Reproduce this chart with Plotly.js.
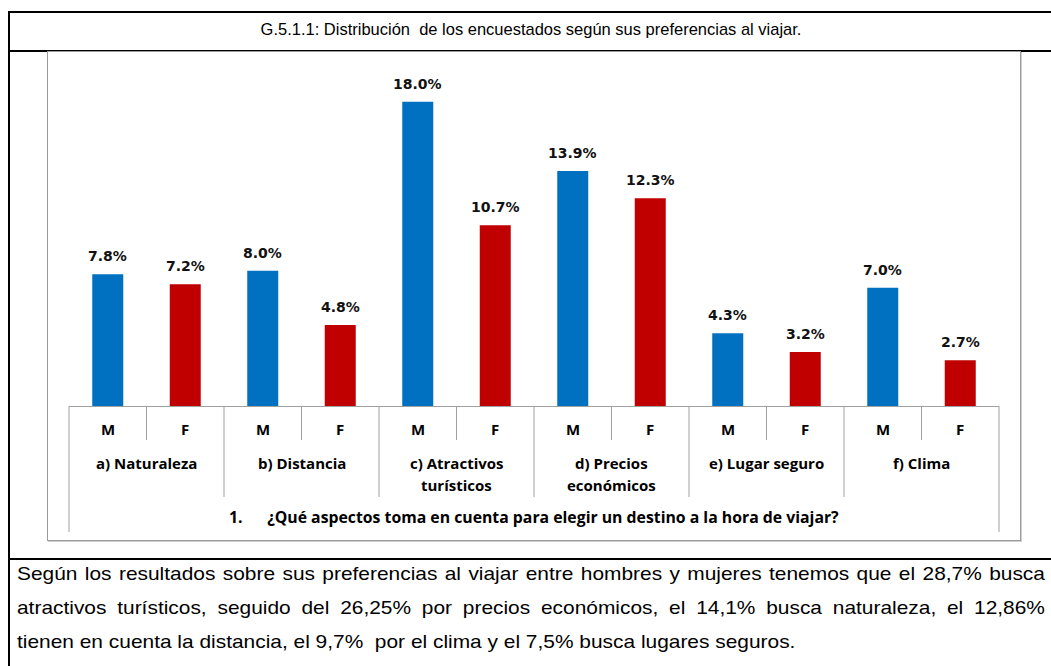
<!DOCTYPE html>
<html>
<head>
<meta charset="utf-8">
<script src="https://cdn.plot.ly/plotly-3.0.1.min.js"></script>
<style>
  html, body { margin:0; padding:0; background:#fff; }
  body { position:relative; width:1051px; height:666px; overflow:hidden; }
  .rule { position:absolute; background:#000; }
  #frame { position:absolute; left:47px; top:51px; width:972px; height:488px; border:1px solid #9a9a9a; box-shadow:1px 1px 0 #cfcfcf; background:#fff; }
  #title { position:absolute; left:531px; top:20px; white-space:nowrap; font-family:"Liberation Sans", Arial, sans-serif; font-size:17px; line-height:20px; color:#000; transform:translateX(-50%) scaleX(0.97); transform-origin:50% 0; }
  #para { position:absolute; left:17px; top:557px; width:934.5px; font-family:"Liberation Sans", Arial, sans-serif; font-size:19px; line-height:34px; color:#000; transform:scaleX(1.1); transform-origin:0 0; }
  #para .j { text-align:justify; text-align-last:justify; white-space:normal; }
  #para .l { text-align:left; white-space:pre; }
  #chart { position:absolute; left:0; top:0; width:1051px; height:666px; }
</style>
</head>
<body>
<div class="rule" style="left:8px;top:11px;width:1043px;height:2px;"></div>
<div class="rule" style="left:8px;top:11px;width:2px;height:655px;"></div>
<div class="rule" style="left:8px;top:50px;width:1043px;height:2px;"></div>
<div class="rule" style="left:8px;top:558px;width:1043px;height:2px;"></div>
<div id="frame"></div>
<div id="title"></div>
<div id="para"></div>
<div id="chart"></div>
<script>
// ---- data ----
const titleText = "G.5.1.1: Distribución\u00a0 de los encuestados según sus preferencias al viajar.";
const groups = [["a) Naturaleza"], ["b) Distancia"], ["c) Atractivos", "turísticos"], ["d) Precios", "económicos"], ["e) Lugar seguro"], ["f) Clima"]];
const sexes = ["M", "F"];
const male = [7.8, 8.0, 18.0, 13.9, 4.3, 7.0];
const female = [7.2, 4.8, 10.7, 12.3, 3.2, 2.7];
const question = "1.\u00a0\u00a0\u00a0\u00a0\u00a0 ¿Qué aspectos toma en cuenta para elegir un destino a la hora de viajar?";
const paragraphLines = [
  "Según los resultados sobre sus preferencias al viajar entre hombres y mujeres tenemos que el 28,7% busca",
  "atractivos turísticos, seguido del 26,25% por precios económicos, el 14,1% busca naturaleza, el 12,86%",
  "tienen en cuenta la distancia, el 9,7%  por el clima y el 7,5% busca lugares seguros."
];
const colors = { M: "#0070C0", F: "#C00000" };

// ---- text blocks ----
document.getElementById("title").textContent = titleText;
const para = document.getElementById("para");
paragraphLines.forEach((t, i) => {
  const d = document.createElement("div");
  d.className = i < paragraphLines.length - 1 ? "j" : "l";
  d.textContent = t;
  para.appendChild(d);
});

// ---- chart ----
const series = [male, female];
const traces = series.map((vals, s) => ({
  type: "bar",
  x: vals.map((_, g) => 2 * g + s),
  y: vals,
  width: 0.4,
  marker: { color: colors[sexes[s]] },
  showlegend: false,
  hoverinfo: "none"
}));

const annotations = [];
const shapes = [];
const axisFont = { family: "Open Sans, sans-serif", size: 15, color: "#000", weight: "bold" };
const lineStyle = { color: "#a0a0a0", width: 1 };

series.forEach((vals, s) => {
  vals.forEach((v, g) => {
    annotations.push({
      x: 2 * g + s, y: v, xref: "x", yref: "y",
      text: "<b>" + v.toFixed(1) + "%</b>",
      showarrow: false, yanchor: "middle", yshift: 18,
      font: { family: "DejaVu Sans, sans-serif", size: 14, color: "#111" }
    });
    annotations.push({
      x: 2 * g + s, y: 0, xref: "x", yref: "paper",
      text: sexes[s], showarrow: false, yanchor: "middle", yshift: -23,
      font: axisFont
    });
  });
});

groups.forEach((lines, g) => {
  lines.forEach((t, k) => {
    annotations.push({
      x: 2 * g + 0.5, y: 0, xref: "x", yref: "paper",
      text: t, showarrow: false, yanchor: "middle", yshift: -(57 + 22 * k),
      font: axisFont
    });
  });
  shapes.push({ type: "line", xref: "x", yref: "paper", ysizemode: "pixel", yanchor: 0,
    x0: 2 * g + 0.5, x1: 2 * g + 0.5, y0: 0, y1: -34, line: lineStyle });
  if (g > 0) {
    shapes.push({ type: "line", xref: "x", yref: "paper", ysizemode: "pixel", yanchor: 0,
      x0: 2 * g - 0.5, x1: 2 * g - 0.5, y0: 0, y1: -91, line: lineStyle });
  }
});
[0, 1].forEach(px => {
  shapes.push({ type: "line", xref: "paper", yref: "paper", ysizemode: "pixel", yanchor: 0,
    x0: px, x1: px, y0: 0, y1: -126, line: lineStyle });
});

annotations.push({
  x: 0.5, y: 0, xref: "paper", yref: "paper", text: question,
  showarrow: false, yanchor: "middle", yshift: -111,
  font: { family: "Open Sans, sans-serif", size: 15.8, color: "#000", weight: "bold" }
});

const layout = {
  width: 1051, height: 666,
  margin: { l: 69, r: 52, t: 68, b: 260, pad: 0 },
  paper_bgcolor: "rgba(0,0,0,0)",
  plot_bgcolor: "rgba(0,0,0,0)",
  barmode: "overlay",
  xaxis: { range: [-0.5, 2 * groups.length - 0.5], showticklabels: false, showgrid: false, zeroline: false,
           showline: true, linecolor: "#a0a0a0", linewidth: 1, ticks: "", fixedrange: true },
  yaxis: { range: [0, 20], visible: false, showgrid: false, zeroline: false, fixedrange: true },
  annotations: annotations,
  shapes: shapes
};

Plotly.newPlot("chart", traces, layout, { staticPlot: true, displayModeBar: false });
</script>
</body>
</html>
